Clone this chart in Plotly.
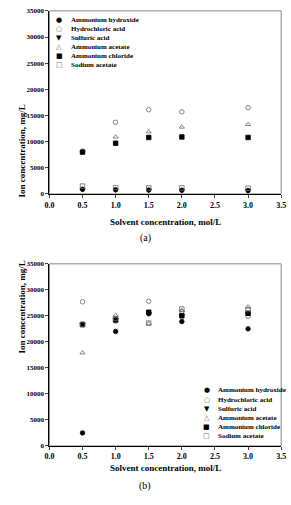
import plotly.graph_objects as go

solvent_conc = [0.5, 1.0, 1.5, 2.0, 3.0]
series_names = ["Ammonium hydroxide", "Hydrochloric acid", "Sulfuric acid",
                "Ammonium acetate", "Ammonium chloride", "Sodium acetate"]

# Panel (a)
ammonium_hydroxide_a = [900, 800, 750, 700, 650]
hydrochloric_a = [8000, 13700, 16100, 15700, 16500]
sulfuric_a = [800, 750, 700, 700, 600]
ammonium_acetate_a = [8300, 10900, 11900, 12800, 13300]
ammonium_chloride_a = [8000, 9700, 10800, 10900, 10800]
sodium_acetate_a = [1500, 1200, 1150, 1150, 1100]

# Panel (b)
ammonium_hydroxide_b = [2500, 22000, 25400, 23900, 22500]
hydrochloric_b = [27700, 24000, 27800, 25800, 24900]
sulfuric_b = [23300, 24300, 25500, 25000, 25500]
ammonium_acetate_b = [17900, 25100, 23500, 26000, 26700]
ammonium_chloride_b = [23300, 24200, 25700, 25000, 25500]
sodium_acetate_b = [23400, 24500, 23600, 26300, 26200]

y_ticks = [0, 5000, 10000, 15000, 20000, 25000, 30000, 35000]
x_ticks = [0.0, 0.5, 1.0, 1.5, 2.0, 2.5, 3.0, 3.5]

symbols = ["circle", "circle-open", "triangle-down", "triangle-up-open", "square", "square-open"]
colors = ["black", "#666", "black", "#666", "black", "#666"]
glyphs = ["●", "○", "▼", "△", "■", "□"]

W, H = 291, 505
serif = "Liberation Serif"

fig = go.Figure()

panels = [
    ("x", "y", [ammonium_hydroxide_a, hydrochloric_a, sulfuric_a, ammonium_acetate_a, ammonium_chloride_a, sodium_acetate_a]),
    ("x2", "y2", [ammonium_hydroxide_b, hydrochloric_b, sulfuric_b, ammonium_acetate_b, ammonium_chloride_b, sodium_acetate_b]),
]
for xa, ya, data in panels:
    for name, vals, sym, col in zip(series_names, data, symbols, colors):
        fig.add_trace(go.Scatter(
            x=solvent_conc, y=vals, mode="markers", name=name, xaxis=xa, yaxis=ya,
            showlegend=False,
            marker=dict(symbol=sym, size=4.5, color=col, line=dict(color=col, width=0.8)),
        ))

def px_x(p):
    return p / W

def px_y(p):
    return 1 - p / H

xdom = [px_x(46), px_x(286)]
ydom_a = [px_y(193), px_y(7)]
ydom_b = [px_y(449), px_y(264)]

common_x = dict(range=[0, 3.5], tickvals=x_ticks, tickformat=".1f", ticks="outside", ticklen=3,
                showline=True, linecolor="black", linewidth=1, showgrid=False, zeroline=False,
                tickfont=dict(family=serif, size=8, color="black", weight="bold"), domain=xdom)
common_y = dict(range=[0, 35000], tickvals=y_ticks, tickformat="d", ticks="outside", ticklen=3,
                showline=True, linecolor="black", linewidth=1, showgrid=False, zeroline=False,
                tickfont=dict(family=serif, size=7, color="black", weight="bold"))

fig.update_layout(
    width=W, height=H, margin=dict(l=0, r=0, t=0, b=0),
    paper_bgcolor="white", plot_bgcolor="white",
    xaxis=dict(**common_x, anchor="y"),
    yaxis=dict(**common_y, domain=ydom_a, anchor="x"),
    xaxis2=dict(**common_x, anchor="y2"),
    yaxis2=dict(**common_y, domain=ydom_b, anchor="x2"),
)

# frames (top/right gray lines)
for xr, yr in [("x domain", "y domain"), ("x2 domain", "y2 domain")]:
    fig.add_shape(type="rect", xref=xr, yref=yr, x0=0, x1=1, y0=0, y1=1,
                  line=dict(color="#888", width=1), layer="below")

ann = []
title_font = dict(family=serif, size=9, color="black", weight="bold")
# axis titles
for ypix_title, ypix_lab, lab in [(222, 238, "(a)"), (479, 498, "(b)")]:
    ann.append(dict(text="Solvent concentration, mol/L", x=px_x(166), y=px_y(ypix_title),
                    xref="paper", yref="paper", showarrow=False, font=title_font))
    ann.append(dict(text=lab, x=px_x(145), y=px_y(ypix_lab), xref="paper", yref="paper",
                    showarrow=False, font=dict(family=serif, size=10, color="black")))
for ycen in [100, 357]:
    ann.append(dict(text="Ion concentration, mg/L", x=px_x(10), y=px_y(ycen), textangle=-90,
                    xref="paper", yref="paper", showarrow=False, font=title_font))

# legends
leg_font = dict(family=serif, size=7, color="black", weight="bold")
for mx, tx, y0 in [(56, 66, 16), (209, 219, 392.7)]:
    for i, (name, g, col) in enumerate(zip(series_names, glyphs, colors)):
        yy = y0 + i * 9.2
        ann.append(dict(text=g, x=px_x(mx), y=px_y(yy), xref="paper", yref="paper",
                        showarrow=False, xanchor="center", yanchor="middle",
                        font=dict(family="DejaVu Sans", size=7, color=col)))
        ann.append(dict(text=name, x=px_x(tx), y=px_y(yy), xref="paper", yref="paper",
                        showarrow=False, xanchor="left", yanchor="middle", font=leg_font))

fig.update_layout(annotations=ann)
fig.write_html("out.html")
